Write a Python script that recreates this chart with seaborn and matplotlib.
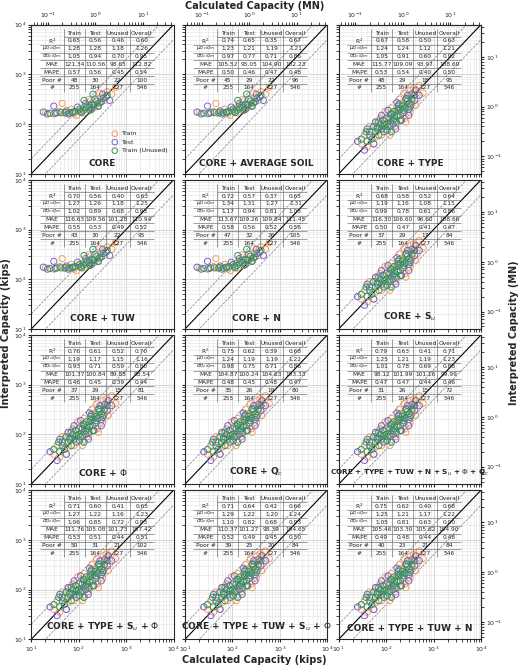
import numpy as np
import pandas as pd
import matplotlib
matplotlib.use("Agg")
import matplotlib.pyplot as plt
import seaborn as sns

KIP_TO_MN = 0.00444822

titles = ["CORE", "CORE + AVERAGE SOIL", "CORE + TYPE",
          "CORE + TUW", "CORE + N", "CORE + S$_u$",
          "CORE + $\\Phi$", "CORE + Q$_c$", "CORE + TYPE + TUW + N + S$_u$ + $\\Phi$ + Q$_c$",
          "CORE + TYPE + S$_u$ + $\\Phi$", "CORE + TYPE + TUW + S$_u$ + $\\Phi$", "CORE + TYPE + TUW + N"]
flat_panels = [0, 1, 3, 4]

row_labels = ["R$^2$", "$\\mu_{Qc/Qm}$", "$\\sigma_{Qc/Qm}$", "MAE", "MAPE", "Poor #", "#"]
col_labels = ["Train", "Test", "Unused", "Overall"]

stats = [
    [["0.65", "0.56", "0.46", "0.60"], ["1.28", "1.28", "1.18", "1.26"], ["1.05", "0.94", "0.70", "0.95"],
     ["121.34", "110.56", "98.65", "112.82"], ["0.57", "0.56", "0.45", "0.54"], ["48", "30", "22", "100"]],
    [["0.74", "0.65", "0.35", "0.67"], ["1.23", "1.21", "1.19", "1.21"], ["0.97", "0.77", "0.71", "0.86"],
     ["105.52", "95.05", "104.90", "102.23"], ["0.50", "0.46", "0.47", "0.48"], ["45", "29", "22", "96"]],
    [["0.67", "0.58", "0.50", "0.63"], ["1.24", "1.24", "1.12", "1.21"], ["1.05", "0.91", "0.60", "0.92"],
     ["115.77", "109.09", "93.97", "108.69"], ["0.53", "0.54", "0.40", "0.50"], ["48", "29", "18", "95"]],
    [["0.70", "0.56", "0.40", "0.63"], ["1.27", "1.26", "1.18", "1.25"], ["1.02", "0.89", "0.68", "0.93"],
     ["116.63", "109.56", "101.28", "110.94"], ["0.55", "0.53", "0.49", "0.52"], ["43", "30", "22", "95"]],
    [["0.72", "0.57", "0.37", "0.65"], ["1.34", "1.31", "1.27", "1.31"], ["1.17", "0.94", "0.81", "1.03"],
     ["113.67", "109.26", "109.84", "111.45"], ["0.58", "0.56", "0.52", "0.56"], ["47", "32", "26", "105"]],
    [["0.68", "0.58", "0.52", "0.64"], ["1.19", "1.16", "1.08", "1.15"], ["0.99", "0.78", "0.61", "0.86"],
     ["116.30", "106.60", "96.60", "108.66"], ["0.50", "0.47", "0.41", "0.47"], ["37", "29", "17", "84"]],
    [["0.76", "0.61", "0.52", "0.70"], ["1.19", "1.17", "1.15", "1.16"], ["0.93", "0.71", "0.59", "0.80"],
     ["101.37", "100.84", "89.88", "98.54"], ["0.46", "0.45", "0.39", "0.44"], ["37", "29", "15", "81"]],
    [["0.75", "0.62", "0.39", "0.68"], ["1.24", "1.19", "1.19", "1.22"], ["0.98", "0.75", "0.71", "0.86"],
     ["104.87", "100.24", "104.63", "103.33"], ["0.48", "0.45", "0.48", "0.47"], ["35", "26", "19", "80"]],
    [["0.79", "0.63", "0.41", "0.71"], ["1.25", "1.21", "1.19", "1.23"], ["1.01", "0.78", "0.69", "0.88"],
     ["98.12", "101.99", "101.16", "99.99"], ["0.47", "0.47", "0.44", "0.46"], ["31", "26", "15", "72"]],
    [["0.71", "0.60", "0.41", "0.65"], ["1.27", "1.22", "1.16", "1.23"], ["1.06", "0.85", "0.72", "0.93"],
     ["111.76", "105.08", "101.73", "107.42"], ["0.53", "0.51", "0.44", "0.51"], ["50", "31", "21", "102"]],
    [["0.71", "0.64", "0.42", "0.66"], ["1.29", "1.22", "1.20", "1.24"], ["1.10", "0.82", "0.68", "0.93"],
     ["110.37", "101.27", "98.39", "104.65"], ["0.52", "0.49", "0.45", "0.50"], ["39", "25", "20", "84"]],
    [["0.75", "0.62", "0.40", "0.68"], ["1.25", "1.21", "1.17", "1.22"], ["1.05", "0.81", "0.63", "0.90"],
     ["105.46", "103.30", "105.62", "104.90"], ["0.49", "0.48", "0.44", "0.48"], ["40", "23", "21", "84"]],
]
counts = ["255", "164", "127", "546"]

# hand-read point clouds (kips): spread cloud
train_x = [30, 40, 50, 60, 70, 80, 90, 100, 110, 120, 140, 150, 170, 180, 200, 220, 250, 280, 300, 350, 400, 450, 500, 600,
           120, 250, 60, 35, 45, 75, 130, 160, 190, 210, 240, 320, 380, 420, 55, 95, 260, 330]
train_y = [40, 35, 70, 55, 90, 60, 120, 80, 140, 100, 170, 110, 200, 150, 260, 170, 300, 220, 380, 260, 450, 330, 600, 420,
           60, 130, 110, 60, 90, 130, 210, 90, 320, 120, 420, 170, 520, 240, 40, 180, 110, 480]
test_x = [25, 35, 45, 55, 65, 75, 90, 100, 120, 130, 150, 180, 200, 230, 260, 300, 350, 400, 500, 80, 160, 300,
          40, 60, 110, 140, 170, 210, 280, 330, 420]
test_y = [45, 30, 60, 40, 80, 100, 70, 130, 90, 160, 130, 230, 150, 190, 320, 200, 400, 300, 380, 150, 80, 150,
          80, 110, 190, 100, 270, 120, 380, 240, 480]
unused_x = [30, 40, 50, 60, 70, 80, 90, 100, 110, 120, 140, 150, 170, 180, 200, 220, 250, 280, 300, 350, 400, 70, 130, 200,
            45, 65, 85, 105, 125, 145, 165, 185, 230, 270, 320, 38, 55]
unused_y = [50, 45, 50, 70, 60, 80, 95, 100, 90, 130, 120, 150, 140, 190, 200, 230, 210, 290, 260, 320, 380, 110, 70, 120,
            70, 85, 120, 75, 160, 180, 110, 250, 170, 330, 220, 70, 90]
# flattened cloud (models with few features)
ftrain_x = [20, 30, 40, 50, 60, 70, 80, 100, 120, 150, 180, 200, 250, 300, 350, 400, 500, 600, 45, 90, 130, 220, 280, 160]
ftrain_y = [170, 160, 180, 165, 175, 200, 160, 190, 210, 230, 200, 280, 260, 350, 300, 450, 400, 550, 260, 150, 170, 220, 420, 310]
ftest_x = [18, 25, 35, 55, 75, 95, 110, 140, 170, 220, 260, 320, 380, 450, 30, 60, 190, 300]
ftest_y = [175, 165, 170, 185, 170, 220, 180, 260, 240, 320, 230, 400, 350, 300, 230, 160, 200, 280]
funused_x = [22, 32, 42, 52, 65, 85, 105, 125, 145, 165, 190, 210, 240, 280, 330, 400, 130, 200, 75, 115, 175, 260]
funused_y = [160, 165, 170, 172, 168, 180, 200, 190, 215, 220, 250, 240, 290, 270, 330, 380, 300, 400, 175, 170, 190, 230]

colors = {"Train": "#f5a05a", "Test": "#7b5fd6", "Train (Unused)": "#2e9a5a"}

def cloud(flat):
    if flat:
        parts = [("Train", ftrain_x, ftrain_y), ("Test", ftest_x, ftest_y), ("Train (Unused)", funused_x, funused_y)]
    else:
        parts = [("Train", train_x, train_y), ("Test", test_x, test_y), ("Train (Unused)", unused_x, unused_y)]
    frames = [pd.DataFrame({"calc": x, "interp": y, "set": s}) for s, x, y in parts]
    return pd.concat(frames, ignore_index=True)

sns.set_style("ticks")
plt.rcParams["font.family"] = ["DejaVu Sans"]

fig, axes = plt.subplots(4, 3, figsize=(5.2, 6.66), dpi=100)
fig.subplots_adjust(left=0.06, right=0.925, top=0.963, bottom=0.04, wspace=0.08, hspace=0.04)

lims = (10, 1e4)
line = np.array(lims)
for i, ax in enumerate(axes.flat):
    df = cloud(i in flat_panels)
    for s in ["Train", "Test", "Train (Unused)"]:
        d = df[df["set"] == s]
        sns.scatterplot(data=d, x="calc", y="interp", ax=ax, s=20, facecolors="none",
                        edgecolor=colors[s], linewidth=0.7, label=s, legend=False, zorder=3)
    ax.set_xscale("log")
    ax.set_yscale("log")
    ax.set_xlim(lims)
    ax.set_ylim(lims)
    ax.plot(line, line, color="black", lw=0.8, zorder=2)
    ax.plot(line, line * 2, color="gray", lw=0.5, ls="--", zorder=2)
    ax.plot(line, line / 2, color="gray", lw=0.5, ls="--", zorder=2)
    ax.grid(True, which="major", color="#c8c8c8", lw=0.5)
    ax.grid(True, which="minor", color="#e2e2e2", lw=0.4)
    ax.set_xlabel("")
    ax.set_ylabel("")
    ax.tick_params(labelsize=4.5, length=2, which="both", pad=1.5)
    r, c = divmod(i, 3)
    if r != 3:
        ax.tick_params(axis="x", labelbottom=False)
    if c != 0:
        ax.tick_params(axis="y", labelleft=False)
    if r == 0:
        sec = ax.secondary_xaxis("top", functions=(lambda v: v * KIP_TO_MN, lambda v: v / KIP_TO_MN))
        sec.tick_params(labelsize=4.5, length=2, pad=1.5)
    if c == 2:
        sec = ax.secondary_yaxis("right", functions=(lambda v: v * KIP_TO_MN, lambda v: v / KIP_TO_MN))
        sec.tick_params(labelsize=4.5, length=2, pad=1.5)
    for sp in ax.spines.values():
        sp.set_linewidth(0.8)

    cells = [[""] + col_labels] + [[lab] + vals for lab, vals in zip(row_labels, stats[i] + [counts])]
    tb = ax.table(cellText=cells, bbox=[0.06, 0.55, 0.8, 0.42], cellLoc="center",
                  colWidths=[0.17, 0.15, 0.15, 0.17, 0.17], zorder=4)
    tb.auto_set_font_size(False)
    tb.set_fontsize(4.2)
    for (rr, cc), cell in tb.get_celld().items():
        cell.set_linewidth(0.4)
        cell.set_edgecolor("#555555")
        cell.set_facecolor("none")
        cell.visible_edges = "BR" if cc < 4 else "B"
        if rr == 0:
            cell.visible_edges = "BR" if 0 < cc < 4 else ("B" if cc == 4 else "R")
        if rr == 7:
            cell.visible_edges = "R" if cc < 4 else ""
    ax.text(0.5, 0.04, titles[i], transform=ax.transAxes, ha="center", va="bottom",
            fontsize=6.5 if i != 8 else 5.2, fontweight="bold", zorder=5)
    if i == 0:
        ax.legend(loc="lower right", bbox_to_anchor=(1.0, 0.1), fontsize=4.5, frameon=False,
                  handletextpad=0.2, markerscale=0.9)

fig.text(0.49, 0.998, "Calculated Capacity (MN)", ha="center", va="top", fontsize=7, fontweight="bold")
fig.text(0.49, 0.002, "Calculated Capacity (kips)", ha="center", va="bottom", fontsize=7, fontweight="bold")
fig.text(0.002, 0.5, "Interpreted Capacity (kips)", rotation=90, ha="left", va="center", fontsize=7, fontweight="bold")
fig.text(0.998, 0.5, "Interpreted Capacity (MN)", rotation=90, ha="right", va="center", fontsize=7, fontweight="bold")

fig.savefig("out.png", dpi=100)
